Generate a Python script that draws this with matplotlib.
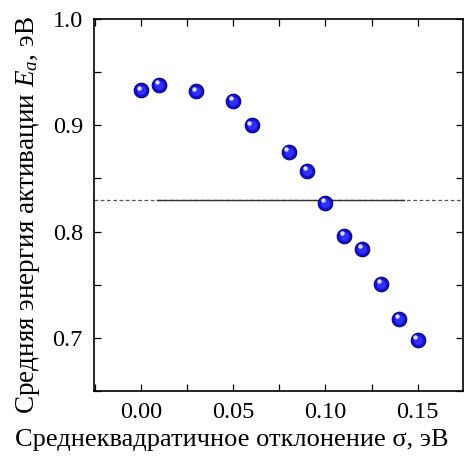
import numpy as np
import matplotlib
matplotlib.use('Agg')
import matplotlib.pyplot as plt
from matplotlib.ticker import MultipleLocator

# Data
sigma = [0.00, 0.01, 0.03, 0.05, 0.06, 0.08, 0.09, 0.10, 0.11, 0.12, 0.13, 0.14, 0.15]
energy = [0.933, 0.938, 0.932, 0.923, 0.900, 0.875, 0.857, 0.827, 0.796, 0.784, 0.751, 0.718, 0.698]
ref_level = 0.830

plt.rcParams['font.family'] = ['Liberation Serif', 'DejaVu Serif']
plt.rcParams['mathtext.fontset'] = 'custom'
plt.rcParams['mathtext.rm'] = 'Liberation Serif'
plt.rcParams['mathtext.it'] = 'Liberation Serif:italic'

fig = plt.figure(figsize=(4.65, 4.57), dpi=100)
ax = fig.add_axes([94 / 465, 1 - 391 / 457, 369 / 465, 372 / 457])

# horizontal reference level: dashed across, solid in the middle
ax.axhline(ref_level, color='#555555', lw=0.9, ls=(0, (3, 2)), zorder=1)
ax.plot([0.0087, 0.1424], [ref_level, ref_level], color='#333333', lw=1.0, zorder=2)

# shaded "sphere" markers
ax.plot(sigma, energy, 'o', ms=10.5, mfc='#1410d8', mec='#08056a', mew=0.8, zorder=3)
ax.plot(sigma, energy, 'o', ms=6.5, mfc='#3030ff', mec='none', zorder=4)
ax.plot(np.array(sigma) - 0.0012, np.array(energy) + 0.0025, 'o', ms=3.2,
        mfc='#dcdcff', mec='none', zorder=5)

ax.set_xlim(-0.0255, 0.1746)
ax.set_ylim(0.65, 1.0)
ax.xaxis.set_major_locator(MultipleLocator(0.05))
ax.xaxis.set_minor_locator(MultipleLocator(0.025))
ax.yaxis.set_major_locator(MultipleLocator(0.1))
ax.yaxis.set_minor_locator(MultipleLocator(0.05))
ax.xaxis.set_major_formatter(plt.FuncFormatter(lambda v, p: f'{v:.2f}'))
ax.yaxis.set_major_formatter(plt.FuncFormatter(lambda v, p: f'{v:.1f}'))
ax.tick_params(which='both', direction='in', top=True, right=True,
               length=5, width=0.9, labelsize=17.5, pad=8)
for s in ax.spines.values():
    s.set_linewidth(1.2)

ax.set_xlabel('Среднеквадратичное отклонение σ, эВ', fontsize=19)
ax.set_ylabel('Средняя энергия активации $E_a$, эВ', fontsize=19.5)
ax.xaxis.set_label_coords(0.374, -0.103)
ax.yaxis.set_label_coords(-0.14, 0.473)

fig.savefig('out.png', dpi=100)
